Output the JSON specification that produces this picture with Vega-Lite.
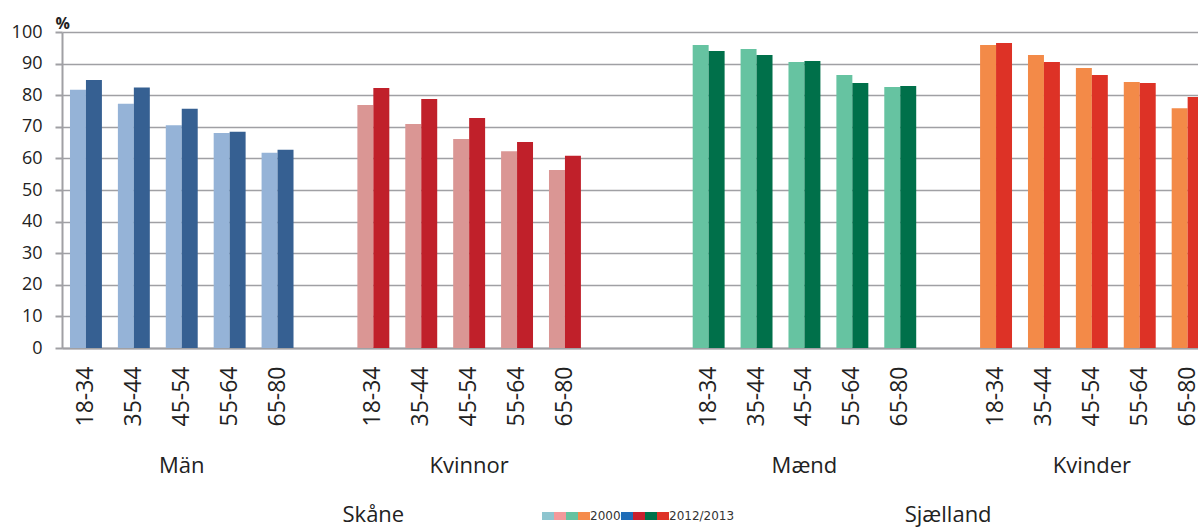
{
  "$schema": "https://vega.github.io/schema/vega-lite/v6.json",
  "width": 1136,
  "height": 316,
  "autosize": {"type": "none"},
  "padding": {"left": 62, "top": 32, "right": 0, "bottom": 179},
  "background": "white",
  "config": {
    "view": {"fill": "#f0f0f0", "stroke": null},
    "font": "Open Sans",
    "axis": {"labelFont": "Open Sans", "titleFont": "Open Sans"},
    "axisY": {
      "labelOverlap": false,
      "titleAngle": 0,
      "titleAlign": "left",
      "titleBaseline": "alphabetic",
      "titleX": -7,
      "titleY": -4,
      "titleFontSize": 16,
      "titleFontWeight": "bold",
      "titleColor": "#222222",
      "labelFontSize": 18,
      "labelColor": "#222222",
      "labelPadding": 13,
      "tickSize": 7,
      "tickColor": "#a0a0a4",
      "tickWidth": 2,
      "domainColor": "#a0a0a4",
      "domainWidth": 2,
      "grid": true,
      "gridColor": "#a0a0a4",
      "gridWidth": 1.6,
      "gridOpacity": 1
    }
  },
  "datasets": {
    "bars": [
      {"group": "Män", "age": "18-34", "year": "2000", "value": 81.7},
      {"group": "Män", "age": "35-44", "year": "2000", "value": 77.3},
      {"group": "Män", "age": "45-54", "year": "2000", "value": 70.5},
      {"group": "Män", "age": "55-64", "year": "2000", "value": 68.0},
      {"group": "Män", "age": "65-80", "year": "2000", "value": 61.8},
      {"group": "Män", "age": "18-34", "year": "2012/2013", "value": 84.8},
      {"group": "Män", "age": "35-44", "year": "2012/2013", "value": 82.4},
      {"group": "Män", "age": "45-54", "year": "2012/2013", "value": 75.7},
      {"group": "Män", "age": "55-64", "year": "2012/2013", "value": 68.4},
      {"group": "Män", "age": "65-80", "year": "2012/2013", "value": 62.7},
      {"group": "Kvinnor", "age": "18-34", "year": "2000", "value": 76.9},
      {"group": "Kvinnor", "age": "35-44", "year": "2000", "value": 70.9},
      {"group": "Kvinnor", "age": "45-54", "year": "2000", "value": 66.1},
      {"group": "Kvinnor", "age": "55-64", "year": "2000", "value": 62.3},
      {"group": "Kvinnor", "age": "65-80", "year": "2000", "value": 56.3},
      {"group": "Kvinnor", "age": "18-34", "year": "2012/2013", "value": 82.3},
      {"group": "Kvinnor", "age": "35-44", "year": "2012/2013", "value": 78.8},
      {"group": "Kvinnor", "age": "45-54", "year": "2012/2013", "value": 72.8},
      {"group": "Kvinnor", "age": "55-64", "year": "2012/2013", "value": 65.2},
      {"group": "Kvinnor", "age": "65-80", "year": "2012/2013", "value": 60.8},
      {"group": "Mænd", "age": "18-34", "year": "2000", "value": 95.9},
      {"group": "Mænd", "age": "35-44", "year": "2000", "value": 94.6},
      {"group": "Mænd", "age": "45-54", "year": "2000", "value": 90.5},
      {"group": "Mænd", "age": "55-64", "year": "2000", "value": 86.4},
      {"group": "Mænd", "age": "65-80", "year": "2000", "value": 82.6},
      {"group": "Mænd", "age": "18-34", "year": "2012/2013", "value": 94.0},
      {"group": "Mænd", "age": "35-44", "year": "2012/2013", "value": 92.7},
      {"group": "Mænd", "age": "45-54", "year": "2012/2013", "value": 90.8},
      {"group": "Mænd", "age": "55-64", "year": "2012/2013", "value": 83.9},
      {"group": "Mænd", "age": "65-80", "year": "2012/2013", "value": 82.9},
      {"group": "Kvinder", "age": "18-34", "year": "2000", "value": 95.9},
      {"group": "Kvinder", "age": "35-44", "year": "2000", "value": 92.7},
      {"group": "Kvinder", "age": "45-54", "year": "2000", "value": 88.6},
      {"group": "Kvinder", "age": "55-64", "year": "2000", "value": 84.2},
      {"group": "Kvinder", "age": "65-80", "year": "2000", "value": 75.9},
      {"group": "Kvinder", "age": "18-34", "year": "2012/2013", "value": 96.5},
      {"group": "Kvinder", "age": "35-44", "year": "2012/2013", "value": 90.5},
      {"group": "Kvinder", "age": "45-54", "year": "2012/2013", "value": 86.4},
      {"group": "Kvinder", "age": "55-64", "year": "2012/2013", "value": 83.9},
      {"group": "Kvinder", "age": "65-80", "year": "2012/2013", "value": 79.4}
    ],
    "labels": [
      {"slot": "Män|45-54", "label": "Män", "kind": "group"},
      {"slot": "Kvinnor|45-54", "label": "Kvinnor", "kind": "group"},
      {"slot": "Mænd|45-54", "label": "Mænd", "kind": "group"},
      {"slot": "Kvinder|45-54", "label": "Kvinder", "kind": "group"},
      {"slot": "Kvinnor|18-34", "label": "Skåne", "kind": "region"},
      {"slot": "g4", "label": "Sjælland", "kind": "region"}
    ],
    "legend": [
      {"key": "a1"}, {"key": "a2"}, {"key": "a3"}, {"key": "a4"},
      {"key": "b1"}, {"key": "b2"}, {"key": "b3"}, {"key": "b4"}
    ]
  },
  "layer": [
    {
      "data": {"name": "bars"},
      "transform": [
        {"calculate": "datum.group + '|' + datum.age", "as": "slot"},
        {"calculate": "datum.group + '|' + datum.year", "as": "series"}
      ],
      "mark": {"type": "bar"},
      "encoding": {
        "x": {
          "field": "slot",
          "type": "nominal",
          "sort": null,
          "scale": {
            "domain": ["Män|18-34", "Män|35-44", "Män|45-54", "Män|55-64", "Män|65-80", "g1",
                       "Kvinnor|18-34", "Kvinnor|35-44", "Kvinnor|45-54", "Kvinnor|55-64", "Kvinnor|65-80", "g2", "g3",
                       "Mænd|18-34", "Mænd|35-44", "Mænd|45-54", "Mænd|55-64", "Mænd|65-80", "g4",
                       "Kvinder|18-34", "Kvinder|35-44", "Kvinder|45-54", "Kvinder|55-64", "Kvinder|65-80"],
            "range": [0, 1149.6],
            "paddingInner": 0,
            "paddingOuter": 0
          },
          "axis": {
            "title": null,
            "labelAngle": -90,
            "labelExpr": "indexof(datum.value, '|') >= 0 ? split(datum.value, '|')[1] : ''",
            "ticks": false,
            "labelPadding": 18,
            "labelFontSize": 23,
            "labelColor": "#222222",
            "labelOverlap": false,
            "labelBound": false,
            "domainColor": "#a0a0a4",
            "domainWidth": 2,
            "grid": false
          }
        },
        "xOffset": {
          "field": "year",
          "type": "nominal",
          "scale": {"domain": ["2000", "2012/2013"], "paddingOuter": 0.5, "paddingInner": 0}
        },
        "y": {
          "field": "value",
          "type": "quantitative",
          "scale": {"domain": [0, 100], "nice": false},
          "axis": {
            "values": [0, 10, 20, 30, 40, 50, 60, 70, 80, 90, 100],
            "tickCount": 20,
            "title": "%"
          }
        },
        "color": {
          "field": "series",
          "type": "nominal",
          "scale": {
            "domain": ["Män|2000", "Män|2012/2013", "Kvinnor|2000", "Kvinnor|2012/2013", "Mænd|2000", "Mænd|2012/2013", "Kvinder|2000", "Kvinder|2012/2013"],
            "range": ["#95b3d7", "#366092", "#da9694", "#c0202a", "#66c3a1", "#00704a", "#f38a48", "#dd3226"]
          },
          "legend": null
        }
      }
    },
    {
      "data": {"name": "labels"},
      "transform": [{"filter": "datum.kind == 'group'"}],
      "mark": {"type": "text", "fontSize": 22, "color": "#222222", "baseline": "alphabetic", "align": "center"},
      "encoding": {
        "x": {"field": "slot", "type": "nominal"},
        "y": {"datum": -39.6, "type": "quantitative"},
        "text": {"field": "label"}
      }
    },
    {
      "data": {"name": "labels"},
      "transform": [{"filter": "datum.kind == 'region'"}],
      "mark": {"type": "text", "fontSize": 22, "color": "#222222", "baseline": "alphabetic", "align": "center"},
      "encoding": {
        "x": {"field": "slot", "type": "nominal"},
        "y": {"datum": -55.1, "type": "quantitative"},
        "text": {"field": "label"}
      }
    },
    {
      "data": {"name": "legend"},
      "mark": {"type": "square", "size": 0, "opacity": 1, "filled": true},
      "encoding": {
        "color": {
          "field": "key",
          "type": "nominal",
          "scale": {
            "domain": ["a1", "a2", "a3", "a4", "b1", "b2", "b3", "b4"],
            "range": ["#8ec5cf", "#f3999b", "#66c2a0", "#f58b4b", "#1e6cb7", "#c9202e", "#00714a", "#de3226"]
          },
          "legend": {
            "title": null,
            "orient": "none",
            "legendX": 480,
            "legendY": 478,
            "direction": "horizontal",
            "columns": 8,
            "columnPadding": 0,
            "labelOffset": 0,
            "symbolType": "M-1,-0.67H1V0.67H-1Z",
            "symbolSize": 144,
            "symbolStrokeWidth": 0,
            "symbolOpacity": 1,
            "labelFont": "DejaVu Sans",
            "labelFontSize": 12,
            "labelColor": "#333333",
            "labelExpr": "datum.value == 'a4' ? '\u00a02000\u2002\u2002' : datum.value == 'b4' ? '\u00a02012/2013' : ''"
          }
        }
      }
    }
  ],
  "resolve": {"scale": {"color": "independent"}, "legend": {"color": "independent"}}
}
